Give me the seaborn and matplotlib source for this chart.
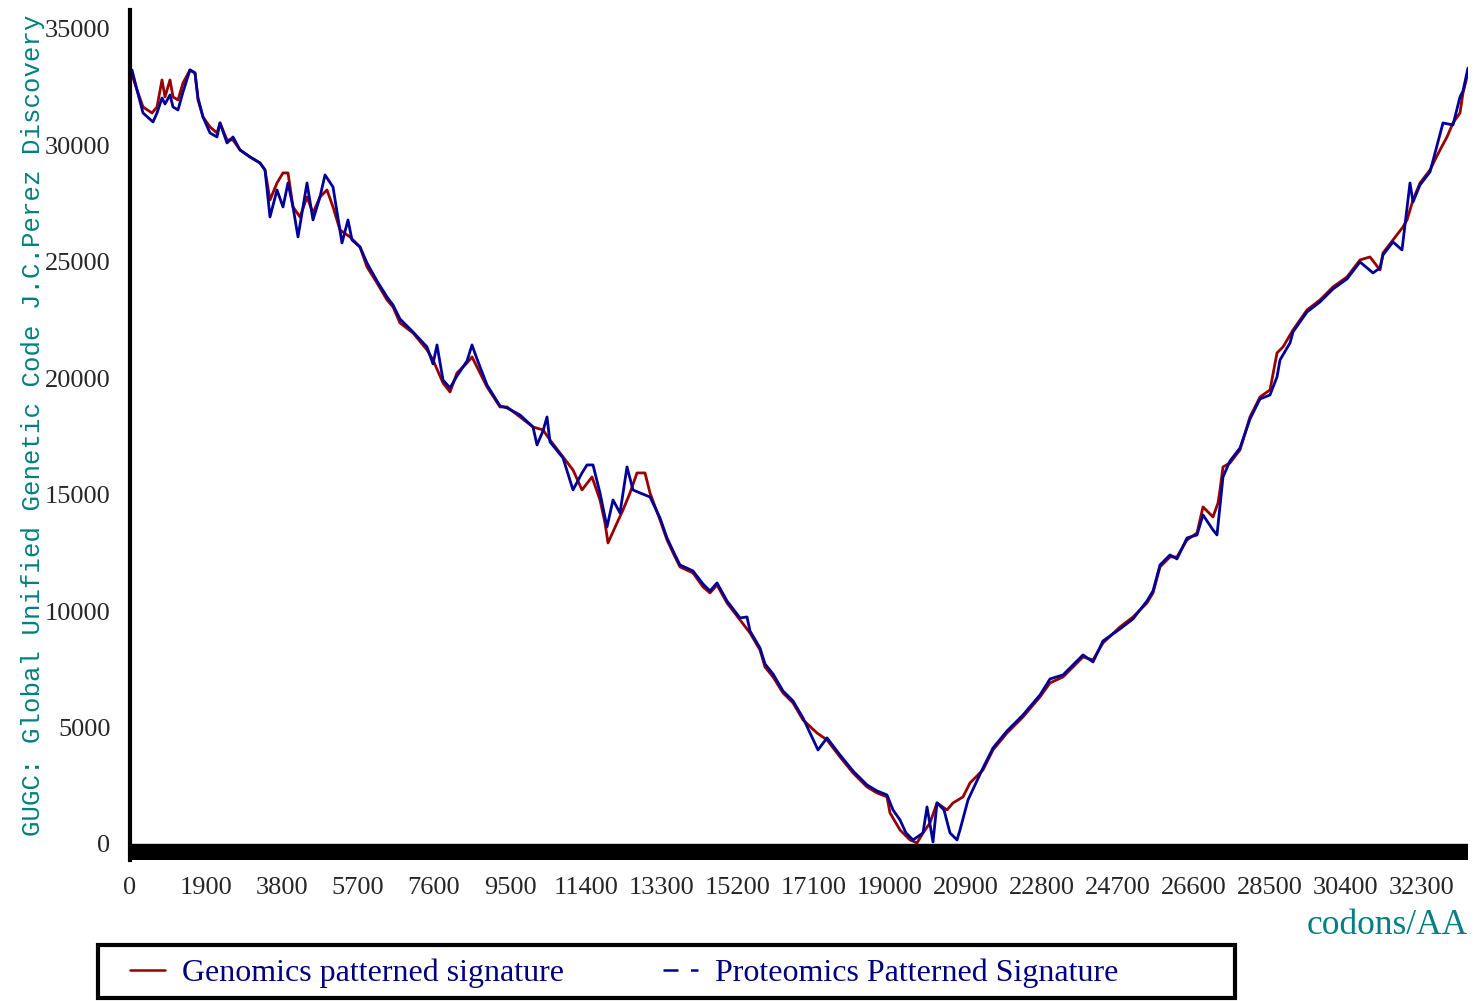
import pandas as pd
import seaborn as sns
import matplotlib.pyplot as plt
from matplotlib.lines import Line2D
from matplotlib.patches import Rectangle

# genomics signature (red)
gen_x = [50, 175, 325, 550, 675, 800, 875, 1000, 1075, 1200, 1325, 1500, 1625, 1700,
         1825, 2000, 2175, 2250, 2425, 2575, 2750, 3000, 3250, 3375, 3500, 3675, 3825,
         3950, 4075, 4250, 4425, 4575, 4750, 4925, 5075, 5250, 5500, 5750, 5925, 6175,
         6425, 6575, 6750, 7075, 7425, 7575, 7825, 8000, 8175, 8425, 8550, 8675, 8925,
         9250, 9425, 9750, 10075, 10325, 10500, 10825, 11075, 11300, 11550, 11750, 11875,
         11950, 12175, 12325, 12500, 12675, 12875, 13000, 13250, 13425, 13625, 13750,
         14075, 14325, 14500, 14675, 14925, 15250, 15500, 15750, 15875, 16075, 16325,
         16575, 16825, 17175, 17425, 17750, 18075, 18425, 18675, 18925, 19000, 19250,
         19500, 19675, 19825, 20000, 20175, 20425, 20575, 20825, 21000, 21325, 21575,
         21925, 22325, 22750, 23000, 23325, 23575, 23825, 24075, 24325, 24750, 25075,
         25425, 25575, 25750, 26000, 26175, 26425, 26675, 26825, 27075, 27200, 27250,
         27325, 27500, 27750, 28000, 28250, 28500, 28675, 28825, 29075, 29425, 29750,
         30075, 30425, 30750, 31000, 31250, 31325, 31575, 31825, 31925, 32075, 32250,
         32500, 32750, 32925, 33075, 33250, 33325, 33425, 33450]
gen_y = [33021, 32377, 31647, 31389, 31647, 32806, 32076, 32806, 32076, 31947, 32677,
         33236, 33107, 31947, 31217, 30788, 30530, 30960, 30230, 30230, 29800, 29500,
         29242, 28942, 27653, 28383, 28813, 28813, 27353, 26923, 27782, 27095, 27782,
         28083, 27353, 26365, 26065, 25635, 24776, 24089, 23359, 23059, 22372, 21942,
         21212, 20783, 19795, 19409, 20225, 20654, 20912, 20482, 19624, 18765, 18765,
         18335, 17906, 17777, 17348, 16618, 16060, 15201, 15759, 14771, 13784, 12925,
         13784, 14342, 15072, 15931, 15931, 15072, 13913, 13054, 12324, 11894, 11637,
         11036, 10778, 11121, 10349, 9619, 9060, 8330, 7600, 7171, 6484, 6055, 5325,
         4766, 4466, 3736, 3049, 2448, 2190, 2018, 1331, 601, 172, 43, 472, 902, 1761,
         1460, 1761, 2018, 2619, 3178, 4036, 4766, 5453, 6312, 6913, 7171, 7600, 8030,
         7901, 8631, 9318, 9747, 10349, 10778, 11894, 12324, 12324, 13054, 13354, 14471,
         14041, 14643, 15201, 16188, 16360, 16918, 18335, 19194, 19495, 21084, 21341,
         22071, 22930, 23359, 23918, 24347, 25077, 25206, 24648, 25378, 25936, 26494,
         26795, 27653, 28383, 28942, 29800, 30359, 30960, 31389, 32248, 32935, 33236]

# proteomics signature (blue)
prot_x = [50, 175, 325, 575, 675, 800, 875, 1000, 1075, 1200, 1325, 1500, 1625, 1700,
          1825, 2000, 2175, 2250, 2425, 2575, 2750, 3000, 3250, 3375, 3500, 3675, 3825,
          3950, 4075, 4200, 4425, 4575, 4750, 4875, 5075, 5300, 5450, 5550, 5750, 5925,
          6175, 6425, 6575, 6750, 7075, 7425, 7575, 7675, 7825, 8000, 8175, 8425, 8550,
          8675, 8925, 9250, 9425, 9750, 10075, 10175, 10325, 10425, 10500, 10825, 11075,
          11300, 11425, 11575, 11750, 11925, 12075, 12250, 12425, 12575, 12750, 13000,
          13250, 13425, 13625, 13750, 14075, 14325, 14500, 14675, 14925, 15250, 15425,
          15500, 15750, 15875, 16075, 16325, 16575, 16825, 17200, 17425, 17750, 18075,
          18425, 18675, 18925, 19075, 19250, 19400, 19575, 19825, 19925, 20075, 20175,
          20350, 20500, 20675, 20750, 20950, 21325, 21575, 21925, 22325, 22750, 23000,
          23325, 23575, 23825, 24075, 24325, 24750, 25075, 25425, 25575, 25750, 26000,
          26175, 26425, 26675, 26825, 27075, 27175, 27325, 27500, 27750, 28000, 28250,
          28500, 28675, 28750, 29000, 29075, 29425, 29750, 30075, 30425, 30750, 31075,
          31250, 31325, 31575, 31800, 32000, 32075, 32250, 32500, 32825, 33075, 33250,
          33325, 33450]
prot_y = [33236, 32377, 31389, 31003, 31389, 32033, 31776, 32162, 31647, 31518, 32291,
          33236, 33107, 32033, 31217, 30530, 30358, 30960, 30100, 30358, 29800, 29500,
          29242, 28942, 26923, 28083, 27353, 28383, 27353, 26065, 28383, 26795, 27782,
          28727, 28211, 25807, 26795, 25936, 25635, 24947, 24175, 23488, 23145, 22543,
          21985, 21341, 20611, 21427, 19924, 19580, 20096, 20740, 21427, 20826, 19710,
          18808, 18722, 18421, 17906, 17133, 17734, 18335, 17262, 16575, 15201, 15931,
          16274, 16274, 15072, 13612, 14771, 14213, 16188, 15201, 15072, 14900, 13999,
          13140, 12410, 11980, 11723, 11164, 10864, 11207, 10435, 9704, 9747, 9145, 8416,
          7729, 7300, 6570, 6141, 5411, 4036, 4552, 3822, 3135, 2534, 2276, 2104, 1460,
          1030, 472, 172, 472, 1589, 86, 1761, 1460, 472, 172, 601, 1889, 3264, 4122,
          4852, 5539, 6398, 7085, 7257, 7686, 8116, 7815, 8717, 9232, 9662, 10435, 10864,
          11980, 12410, 12239, 13140, 13268, 14127, 13483, 13268, 15759, 16446, 17004,
          18249, 19108, 19280, 20053, 20783, 21513, 21985, 22844, 23273, 23832, 24261,
          24991, 24519, 24733, 25292, 25850, 25506, 28383, 27567, 28297, 28856, 30960,
          30874, 32076, 32334, 33321]

x_ticks = list(range(0, 33000, 1900))
y_ticks = list(range(0, 35001, 5000))

RED = '#990000'
BLUE = '#000099'
TEAL = '#008080'
NAVY = '#000080'

sns.set_style('white')
plt.rcParams['font.family'] = ['Liberation Serif', 'DejaVu Serif']

gen = pd.DataFrame({'codons': gen_x, 'value': gen_y})
prot = pd.DataFrame({'codons': prot_x, 'value': prot_y})

fig = plt.figure(figsize=(14.84, 10.01), dpi=100)
ax = fig.add_axes([130 / 1484, 1 - 860 / 1001, 1338 / 1484, 850 / 1001])

sns.lineplot(data=gen, x='codons', y='value', color=RED, linewidth=2.0,
             sort=False, estimator=None, ax=ax)
sns.lineplot(data=prot, x='codons', y='value', color=BLUE, linewidth=2.0,
             sort=False, estimator=None, ax=ax)

# thick black bar under the zero line
ax.axhspan(-690, 0, color='black', zorder=5)

ax.set_xlim(0, 33450)
ax.set_ylim(-690, 35810)
ax.set_xticks(x_ticks)
ax.set_yticks(y_ticks)
ax.set_xticklabels([str(v) for v in x_ticks], fontsize=19)
ax.set_yticklabels([str(v) for v in y_ticks], fontsize=19)
ax.tick_params(axis='x', length=0, pad=12)
ax.tick_params(axis='y', length=12, width=2, direction='out', pad=2, color='black')
ax.set_xlabel('')
ax.set_ylabel('')

for side in ['top', 'right', 'bottom']:
    ax.spines[side].set_visible(False)
ax.spines['left'].set_linewidth(3)
ax.spines['left'].set_color('black')

fig.text(33 / 1484, 1 - 425 / 1001, 'GUGC: Global Unified Genetic Code J.C.Perez Discovery',
         rotation=90, ha='center', va='center', color=TEAL, fontsize=18.5,
         family=['Liberation Mono', 'DejaVu Sans Mono'])
fig.text(1468 / 1484, 1 - 926 / 1001, 'codons/AA', ha='right', va='center',
         color=TEAL, fontsize=25.5)

# legend with its own square frame
handles = [Line2D([], [], color=RED, linewidth=1.8),
           Line2D([], [], color=BLUE, linewidth=1.8, dashes=(6, 5))]
labels = ['Genomics patterned signature', 'Proteomics Patterned Signature']
fig.legend(handles, labels, loc='center left', bbox_to_anchor=(130 / 1484, 1 - 973 / 1001),
           ncol=2, frameon=False, fontsize=23, handlelength=1.1, handletextpad=0.53,
           columnspacing=3.1, borderpad=0, borderaxespad=0, labelcolor=NAVY)
fig.add_artist(Rectangle((98 / 1484, 1 - 998 / 1001), 1137 / 1484, 53 / 1001,
                         transform=fig.transFigure, fill=False, edgecolor='black',
                         linewidth=3))

fig.savefig('out.png', dpi=100)
